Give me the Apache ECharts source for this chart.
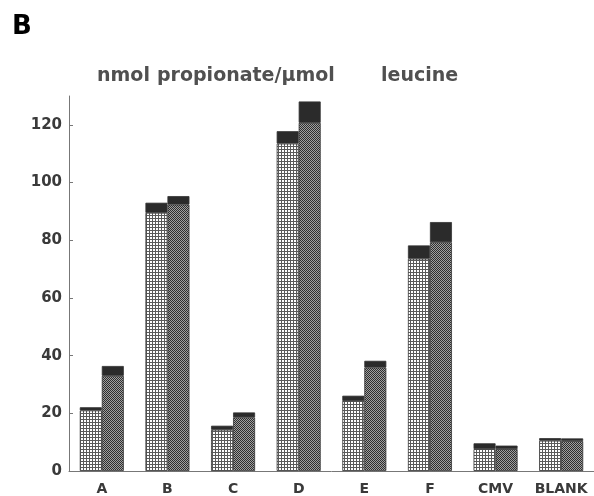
<!DOCTYPE html>
<html>
<head>
<meta charset="utf-8">
<script src="https://cdn.jsdelivr.net/npm/echarts@6/dist/echarts.min.js"></script>
<style>
  html, body { margin: 0; padding: 0; background: #fff; }
  #chart { width: 594px; height: 496px; }
</style>
</head>
<body>
<div id="chart"></div>
<script>
// values (nmol propionate / umol leucine)
const categories = ['A', 'B', 'C', 'D', 'E', 'F', 'CMV', 'BLANK'];
const lightBase = [21, 89.5, 14.3, 113.5, 24.3, 73.6, 7.6, 10.5];
const lightCap = [1.1, 3.5, 1.4, 4.3, 1.8, 4.6, 2.0, 0.9];
const darkBase = [33, 92.4, 18.6, 120.7, 35.9, 79.3, 7.6, 10.4];
const darkCap = [3.4, 2.9, 1.7, 7.4, 2.3, 7.0, 1.2, 0.9];
const yTicks = [0, 20, 40, 60, 80, 100, 120];

// small canvas fills to imitate the printed screen tones
function makePattern(size, draw) {
    const c = document.createElement('canvas');
    c.width = size;
    c.height = size;
    draw(c.getContext('2d'));
    return { image: c, repeat: 'repeat' };
}

const lightFill = makePattern(3, ctx => {
    ctx.fillStyle = '#5a5a5a';
    ctx.fillRect(0, 0, 3, 3);
    ctx.fillStyle = '#ffffff';
    ctx.fillRect(0, 0, 2, 2);
});

const darkFill = makePattern(2, ctx => {
    ctx.fillStyle = '#a0a0a0';
    ctx.fillRect(0, 0, 2, 2);
    ctx.fillStyle = '#2e2e2e';
    ctx.fillRect(0, 0, 1, 1);
    ctx.fillRect(1, 1, 1, 1);
});

const capColor = '#2b2b2b';
const labelFont = { fontFamily: 'DejaVu Sans', fontWeight: 'bold', color: '#3a3a3a' };
const titleFont = 'bold 19px "DejaVu Sans"';

const chart = echarts.init(document.getElementById('chart'));

function barSeries(name, stack, data, color) {
    return {
        name: name,
        type: 'bar',
        stack: stack,
        data: data,
        barWidth: 22,
        barGap: '0%',
        itemStyle: { color: color, borderColor: '#333', borderWidth: 0.8 },
        silent: true
    };
}

// the printed title is letter-spaced, so its words are placed one by one
function titleWord(text, x) {
    return { type: 'text', left: x, top: 67, style: { text: text, font: titleFont, fill: '#505050' } };
}

const option = {
    animation: false,
    backgroundColor: '#fff',
    grid: { left: 69, right: 0, top: 96, bottom: 24 },
    graphic: [
        {
            type: 'text', left: 12, top: 14,
            style: { text: 'B', font: 'bold 26px "DejaVu Sans"', fill: '#000' }
        },
        titleWord('nmol', 97),
        titleWord('propionate/\u00b5mol', 157),
        titleWord('leucine', 381)
    ],
    xAxis: {
        type: 'category',
        data: categories,
        axisLine: { lineStyle: { color: '#777', width: 1 } },
        axisTick: { show: false },
        axisLabel: Object.assign({ fontSize: 14, margin: 11, interval: 0 }, labelFont)
    },
    yAxis: {
        type: 'value',
        min: 0,
        max: 130,
        interval: 20,
        splitLine: { show: false },
        axisLine: { show: true, lineStyle: { color: '#777', width: 1 } },
        axisTick: { show: true, inside: true, length: 4, customValues: yTicks, lineStyle: { color: '#777' } },
        axisLabel: Object.assign({ fontSize: 15, margin: 7, customValues: yTicks }, labelFont)
    },
    series: [
        barSeries('light', 'L', lightBase, lightFill),
        barSeries('light cap', 'L', lightCap, capColor),
        barSeries('dark', 'D', darkBase, darkFill),
        barSeries('dark cap', 'D', darkCap, capColor)
    ]
};

chart.setOption(option);
</script>
</body>
</html>
